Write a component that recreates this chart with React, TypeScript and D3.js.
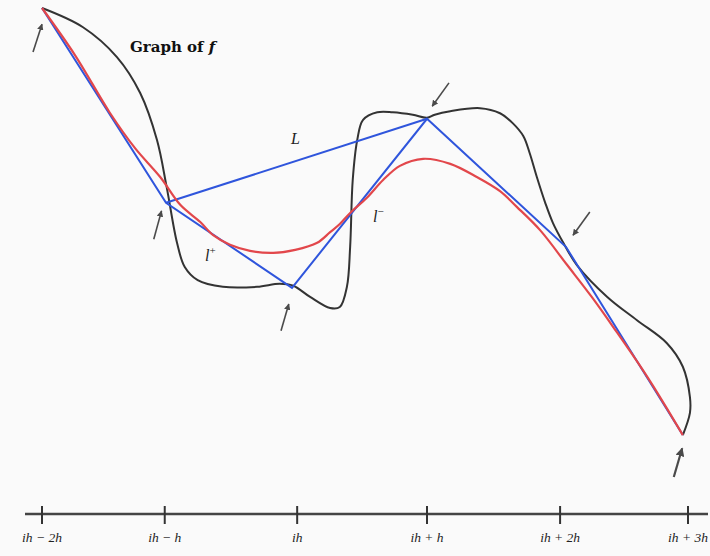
import React from "react";
import * as d3 from "d3";

// Axis ticks (x in data units 0..100)
const tickLabels = ["ih − 2h", "ih − h", "ih", "ih + h", "ih + 2h", "ih + 3h"];
const tickValues = [0, 19.0, 39.5, 59.6, 80.2, 100];

// Graph of f (black), [x, y]
const fCurve: [number, number][] = [
  [0, 100], [6.35, 96.2], [11.6, 90.3], [15.2, 83.2], [17.8, 73.9], [19.3, 64.6],
  [20.9, 53.6], [22.1, 48.8], [24.1, 46.2], [28.0, 44.9], [33.3, 44.9],
  [36.8, 45.5], [38.9, 45.1], [41.5, 42.9], [44.6, 40.7], [46.1, 40.9], [47.2, 44.9],
  [47.7, 52.8], [48.1, 66.0], [48.8, 73.9], [49.7, 77.9], [51.9, 79.4], [54.3, 79.4],
  [57.4, 78.9], [59.6, 78.3], [60.8, 78.9], [63.2, 79.6], [67.8, 80.2], [70.9, 79.2],
  [72.9, 77.2], [74.5, 74.7], [75.5, 71.3], [76.6, 66.6], [77.9, 61.5], [79.1, 57.5],
  [80.7, 53.6], [82.8, 49.2], [87.5, 42.9], [92.1, 38.3], [96.7, 33.8],
  [99.2, 29.1], [100.3, 23.1], [100.3, 20.0], [99.2, 15.6],
];

// Piecewise linear interpolant (blue)
const nodes: [number, number][] = [
  [0, 100], [19.2, 61.5], [38.7, 44.7], [59.6, 78.1], [81.1, 52.8], [99.2, 15.6],
];
// Chord L (blue)
const chordL: [number, number][] = [[19.2, 61.5], [59.6, 78.1]];

// Smoothed curve (red)
const smooth: [number, number][] = [
  [0, 100], [5.1, 90.7], [10.5, 79.3], [14.4, 72.3], [18.3, 66.6], [21.4, 61.1],
  [24.5, 57.7], [26.5, 55.1], [29.1, 53.2], [32.2, 52.0], [35.8, 51.6], [39.2, 52.2],
  [42.6, 53.6], [44.6, 55.7], [46.1, 57.3], [47.7, 59.5], [50.3, 62.5], [52.8, 66.0],
  [55.4, 68.8], [59.0, 70.2], [63.2, 69.2], [67.3, 66.6], [70.9, 63.8], [73.5, 60.7],
  [77.1, 56.1], [81.3, 49.2], [85.1, 42.9], [88.4, 37.0], [93.7, 27.1], [99.2, 15.6],
];

// Pointer arrows: [fromX, fromY, toX, toY]
const arrows: [number, number, number, number][] = [
  [-1.39, 91.3, 0, 96.8],
  [17.3, 54.3, 18.5, 59.9],
  [37.0, 36.2, 38.2, 41.5],
  [63.0, 85.2, 60.4, 80.6],
  [84.8, 59.7, 82.2, 55.1],
  [97.8, 7.3, 99.1, 13.0],
];

const W = 710;
const H = 556;

export default function App() {
  const x = d3.scaleLinear().domain([0, 100]).range([42, 688]);
  const y = d3.scaleLinear().domain([0, 100]).range([514, 8]);

  const smoothLine = d3
    .line<[number, number]>()
    .x((d) => x(d[0]))
    .y((d) => y(d[1]))
    .curve(d3.curveCatmullRom.alpha(0.5));
  const polyLine = d3
    .line<[number, number]>()
    .x((d) => x(d[0]))
    .y((d) => y(d[1]));

  const axisY = y(0);
  const serif = "'Liberation Serif', 'DejaVu Serif', serif";

  return (
    <svg
      width={W}
      height={H}
      style={{ position: "absolute", left: 0, top: 0, display: "block" }}
    >
      <defs>
        <marker
          id="ah"
          viewBox="0 0 10 10"
          refX="9"
          refY="5"
          markerWidth="4"
          markerHeight="4"
          orient="auto"
          markerUnits="strokeWidth"
        >
          <path d="M0,0 L10,5 L0,10 z" fill="#4a4a4a" />
        </marker>
      </defs>
      <rect x={0} y={0} width={W} height={H} fill="#fafafa" />

      {/* axis */}
      <line x1={25} x2={708} y1={axisY} y2={axisY} stroke="#444" strokeWidth={2.5} />
      {tickValues.map((t, i) => (
        <g key={i}>
          <line x1={x(t)} x2={x(t)} y1={axisY - 8} y2={axisY + 10} stroke="#333" strokeWidth={2} />
          <text
            x={x(t)}
            y={axisY + 28}
            textAnchor="middle"
            fontFamily={serif}
            fontStyle="italic"
            fontSize={13.5}
            fill="#222"
          >
            {tickLabels[i]}
          </text>
        </g>
      ))}

      {/* curves */}
      <path d={smoothLine(fCurve) || ""} fill="none" stroke="#333" strokeWidth={2} />
      <path d={polyLine(nodes) || ""} fill="none" stroke="#2f55dc" strokeWidth={2} />
      <path d={polyLine(chordL) || ""} fill="none" stroke="#2f55dc" strokeWidth={2} />
      <path d={smoothLine(smooth) || ""} fill="none" stroke="#e2474b" strokeWidth={2.2} />

      {/* arrows */}
      {arrows.map((a, i) => (
        <line
          key={i}
          x1={x(a[0])}
          y1={y(a[1])}
          x2={x(a[2])}
          y2={y(a[3])}
          stroke="#4a4a4a"
          strokeWidth={i === 5 ? 2.2 : 1.6}
          markerEnd="url(#ah)"
        />
      ))}

      {/* labels */}
      <text x={130} y={52} fontFamily="'DejaVu Serif', serif" fontWeight="bold" fontSize={15} fill="#111">
        Graph of <tspan fontStyle="italic">f</tspan>
      </text>
      <text x={291} y={144} fontFamily={serif} fontStyle="italic" fontSize={16} fill="#222">
        L
      </text>
      <text x={205} y={261} fontFamily={serif} fontStyle="italic" fontSize={16} fill="#222">
        l<tspan fontSize={11} dy={-7} fontStyle="normal">+</tspan>
      </text>
      <text x={373} y={222} fontFamily={serif} fontStyle="italic" fontSize={16} fill="#222">
        l<tspan fontSize={11} dy={-7} fontStyle="normal">−</tspan>
      </text>
    </svg>
  );
}
